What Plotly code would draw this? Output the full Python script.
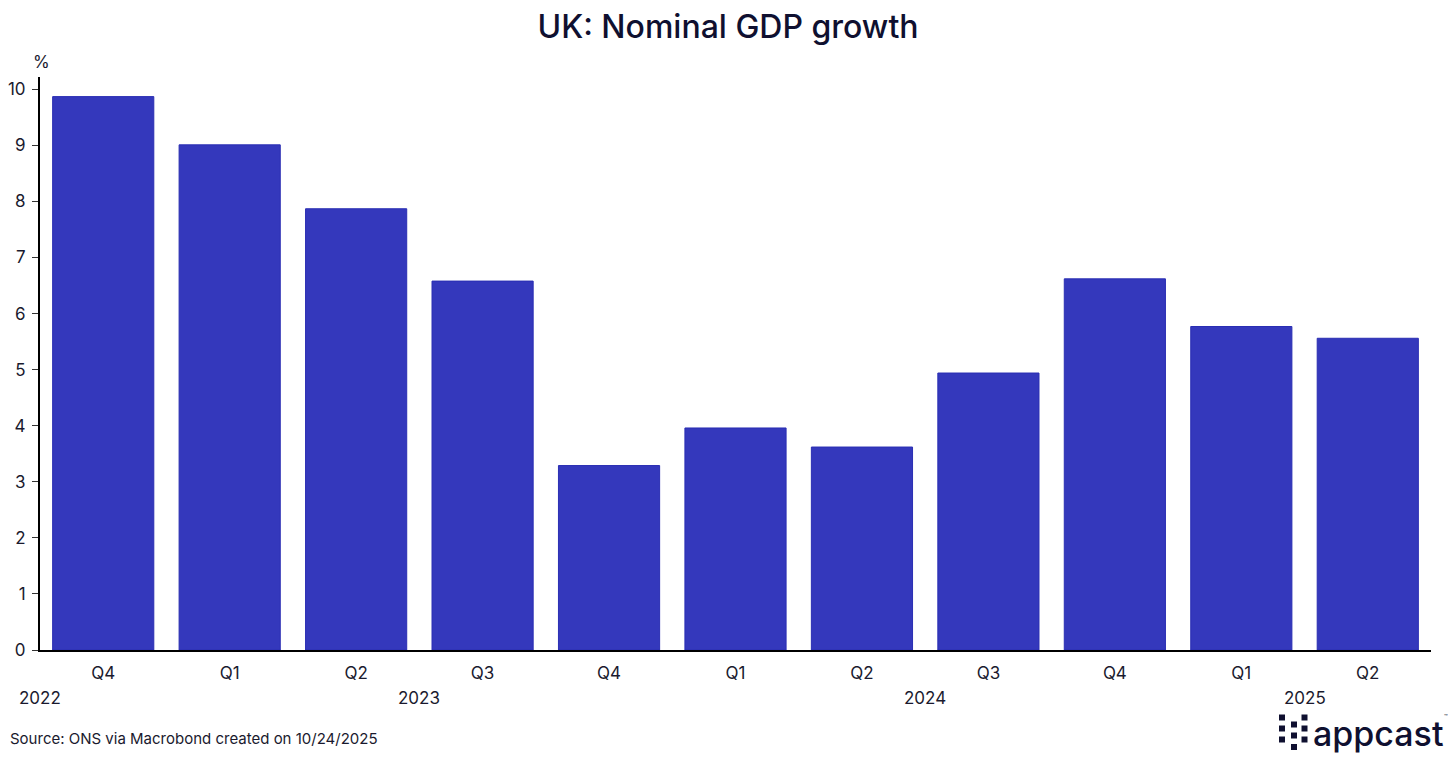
import plotly.graph_objects as go

# quarterly data, nominal GDP growth y/y %
quarters = ['Q4', 'Q1', 'Q2', 'Q3', 'Q4', 'Q1', 'Q2', 'Q3', 'Q4', 'Q1', 'Q2']
years = [2022, 2023, 2023, 2023, 2023, 2024, 2024, 2024, 2024, 2025, 2025]
growth = [9.87, 9.01, 7.87, 6.58, 3.29, 3.96, 3.62, 4.94, 6.62, 5.77, 5.56]
y_ticks = list(range(0, 11))

navy = '#0f1030'
bar_color = '#3438bc'
text_color = '#1a1a2e'
font_family = 'Inter, Lato, sans-serif'

# page body has an 8px margin, so the figure is 16px smaller than the window
OFF = 8
W, H = 1440, 745
L, R, T, B = 32, 17, 69, 103

idx = list(range(len(quarters)))
bounds = [i - 0.5 for i in idx] + [idx[-1] + 0.5]
year_bounds = [i - 0.5 for i in idx[1:] if years[i] != years[i - 1]]
xrange = [-0.5, idx[-1] + 0.5]


def px(x):
    return (x - OFF - L) / (W - L - R)


def py(y):
    return (H - B - (y - OFF)) / (H - T - B)


fig = go.Figure()
fig.add_trace(go.Bar(x=idx, y=growth, marker=dict(color=bar_color, line=dict(color='#2a2eb3', width=1)),
                     hoverinfo='y'))

# year labels: centred on the year's span, first partial year sits at the axis start
annotations = []
for k, yr in enumerate(sorted(set(years))):
    pos = [i for i in idx if years[i] == yr]
    lo, hi = pos[0] - 0.5, pos[-1] + 0.5
    xpos = lo if (k == 0 and quarters[pos[0]] != 'Q1') else (lo + hi) / 2
    annotations.append(dict(x=xpos, xref='x', y=0, yref='paper', yshift=-48, text=str(yr),
                            showarrow=False, xanchor='center', yanchor='middle',
                            font=dict(size=17, color=text_color, family=font_family)))

annotations.append(dict(x=px(41), xref='paper', y=1, yref='paper', yshift=15, text='%', showarrow=False,
                        xanchor='center', yanchor='middle',
                        font=dict(size=17, color=text_color, family=font_family)))
annotations.append(dict(x=px(8), xref='paper', y=py(738), yref='paper',
                        text='Source: ONS via Macrobond created on 10/24/2025', showarrow=False,
                        xanchor='left', yanchor='middle',
                        font=dict(size=15, color=text_color, family=font_family)))

# appcast logo
annotations.append(dict(x=px(1311), xref='paper', y=py(733), yref='paper', text='appcast', showarrow=False,
                        xanchor='left', yanchor='middle',
                        font=dict(size=34, color=navy, family=font_family, weight=500)))
annotations.append(dict(x=px(1442), xref='paper', y=py(716), yref='paper', text='™', showarrow=False,
                        xanchor='left', yanchor='middle', font=dict(size=6, color=navy, family=font_family)))

shapes = []
squares = [(1279, 714.5), (1279, 725.5), (1279, 736.5),
           (1291, 721.5), (1291, 732.5), (1291, 744),
           (1301.5, 714.5), (1301.5, 725.5), (1301.5, 736.5)]
for sx, sy in squares:
    shapes.append(dict(type='rect', xref='paper', yref='paper', x0=px(sx), x1=px(sx + 6),
                       y0=py(sy), y1=py(sy + 6), fillcolor=navy, line=dict(width=0)))

fig.update_layout(
    width=W, height=H,
    margin=dict(l=L, r=R, t=T, b=B, autoexpand=False),
    plot_bgcolor='white', paper_bgcolor='white',
    bargap=0.2,
    showlegend=False,
    font=dict(family=font_family, size=17, color=text_color),
    title=dict(text='UK: Nominal GDP growth', x=0.5, xref='container', xanchor='center',
               y=1 - (27 - OFF) / H, yref='container', yanchor='middle',
               font=dict(size=32, color=navy, family=font_family, weight=500)),
    xaxis=dict(range=xrange, tickvals=idx, ticktext=quarters, ticks='', ticklabelstandoff=7,
               showline=True, linecolor='#000000', linewidth=2, showgrid=False, zeroline=False,
               fixedrange=True, automargin=False),
    xaxis2=dict(range=xrange, overlaying='x', anchor='y', side='bottom', tickvals=bounds,
                ticks='outside', ticklen=4, tickwidth=1.3, tickcolor='#000000', automargin=False,
                showticklabels=False, showline=False, showgrid=False, zeroline=False),
    xaxis3=dict(range=xrange, overlaying='x', anchor='y', side='bottom', tickvals=year_bounds,
                ticks='outside', ticklen=8, tickwidth=1.3, tickcolor='#000000', automargin=False,
                showticklabels=False, showline=False, showgrid=False, zeroline=False),
    yaxis=dict(range=[0, 10.22], tickvals=y_ticks, ticks='outside', ticklen=6, tickwidth=1,
               tickcolor='#333333', showline=True, linecolor='#000000', linewidth=2,
               showgrid=False, zeroline=False, ticklabelstandoff=3, automargin=False),
    annotations=annotations,
    shapes=shapes,
)

fig.write_html('out.html')
